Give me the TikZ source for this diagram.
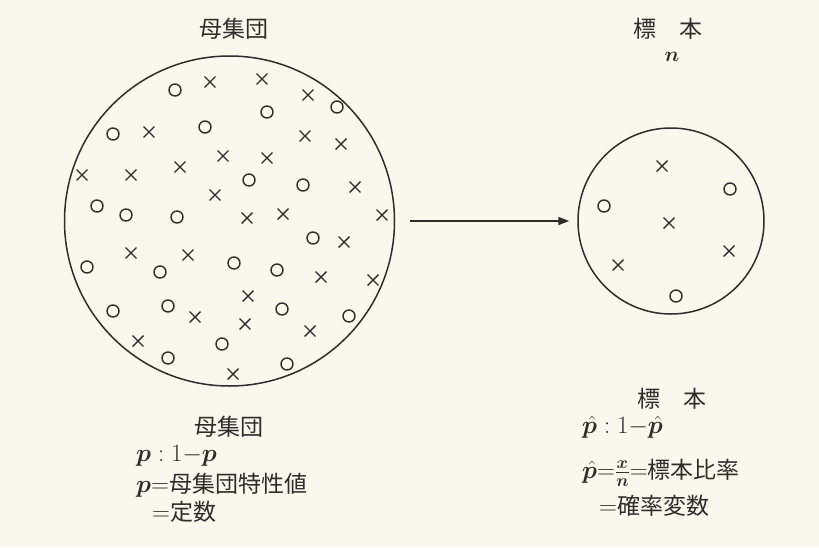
\documentclass[tikz,border=0pt]{standalone}
\usepackage{fontspec}
\usepackage{amsmath,bm}
\newfontfamily\jp{Noto Sans CJK JP}
\usetikzlibrary{shapes.misc,arrows.meta}
\definecolor{paper}{RGB}{250,248,237}
\definecolor{ink}{RGB}{45,45,45}
\newcommand\mymath[1]{{\fontsize{26}{26}\selectfont$#1$}}
\begin{document}
\begin{tikzpicture}[x=1pt,y=-1pt,
  mo/.style={circle,draw=ink,line width=1.4pt,minimum size=12pt,inner sep=0pt},
  mx/.style={cross out,draw=ink,line width=1.4pt,minimum size=9.5pt,inner sep=0pt},
  ring/.style={circle,draw=ink,line width=1.5pt,inner sep=0pt},
  lbl/.style={text=ink,inner sep=0pt,font=\jp\fontsize{23}{23}\selectfont}]
\fill[paper] (0,0) rectangle (819,547);
\useasboundingbox (0,0) rectangle (819,547);

% circles
\node[ring,minimum size=330pt] (pop) at (229.5,221) {};
\node[ring,minimum size=186pt] (smp) at (671,221) {};

% arrow
\draw[ink,line width=1.6pt,-{Triangle[length=11pt,width=8pt]},shorten <=15pt,shorten >=8pt] (pop) -- (smp);

% population markers
\foreach \x/\y [count=\i] in {175/90,113/134,205/127,267/112,337/107,97/206,126/215,177/217,249/180,303/185,313/238,87/267,160/272,234/263,277/270,113/311,168/306,282/309,349/316,168/358,222/344,287/364}
  \node[mo] (o\i) at (\x,\y) {};
\foreach \x/\y [count=\i] in {210/82,262/79,308/95,149/132,305/136,341/144,82/175,131/175,180/167,223/156,267/158,355/187,215/195,247/218,283/214,382/215,131/253,188/255,344/242,321/277,373/280,248/296,195/317,245/324,310/331,138/341,233/374}
  \node[mx] (x\i) at (\x,\y) {};

% sample markers
\foreach \x/\y [count=\i] in {730/189,604/206,676/296}
  \node[mo] (so\i) at (\x,\y) {};
\foreach \x/\y [count=\i] in {662/166,669/223,729/251,618/265}
  \node[mx] (sx\i) at (\x,\y) {};

% titles
\node[lbl] (tpop) at (234,29) {母集団};
\node[lbl] (tsmp) at (668,29) {標　本};
\node[text=ink,inner sep=0pt,font=\fontsize{22}{22}\selectfont] (tn) at (672,57) {$\bm{n}$};

% bottom left
\node[lbl] (bl1) at (229,427) {母集団};
\node[lbl,anchor=west] (bl2) at (136,456) {\mymath{\bm{p}:1{-}\bm{p}}};
\node[lbl,anchor=west] (bl3) at (136,485) {\mymath{\bm{p}{=}}母集団特性値};
\node[lbl,anchor=west] (bl4) at (152,512) {\mymath{{=}}定数};

% bottom right
\node[lbl] (br1) at (672,399) {標　本};
\node[lbl,anchor=west] (br2) at (582,427) {\mymath{\hat{\bm{p}}:1{-}\hat{\bm{p}}}};
\node[lbl,anchor=west] (br3) at (582,473) {\mymath{\hat{\bm{p}}{=}\frac{\bm{x}}{\bm{n}}{=}}標本比率};
\node[lbl,anchor=west] (br4) at (599,506) {\mymath{{=}}確率変数};
\end{tikzpicture}
\end{document}
